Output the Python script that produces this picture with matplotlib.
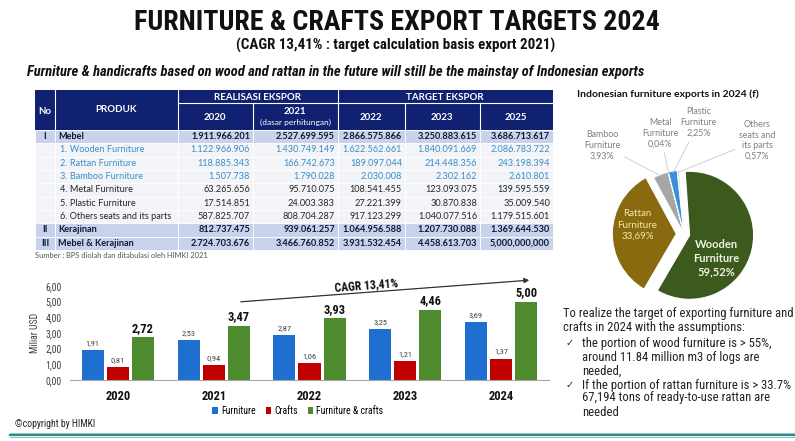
import numpy as np
import matplotlib.pyplot as plt
from matplotlib import font_manager
from matplotlib.patches import Rectangle

# FONTS
fonts = font_manager.fontManager.ttflist
names = {f.name for f in fonts}
if "Liberation Sans Narrow" in names:
    NK = dict(family="Liberation Sans Narrow")
elif "Roboto Condensed" in names:
    NK = dict(family="Roboto Condensed")
elif any(f.name == "DejaVu Sans" and f.stretch == "condensed" for f in fonts):
    NK = dict(family="DejaVu Sans", stretch="condensed")
else:
    NK = dict(family="Liberation Sans")
BODY = "Lato" if "Lato" in names else "DejaVu Sans"

# DATA - table
row_no = ["I", "", "", "", "", "", "", "II", "III"]
row_prod = ["Mebel", "1. Wooden Furniture", "2. Rattan Furniture", "3. Bamboo Furniture",
            "4. Metal Furniture", "5. Plastic Furniture", "6. Others seats and its parts",
            "Kerajinan", "Mebel & Kerajinan"]
val_2020 = ["1.911.966.201", "1.122.966.906", "118.885.343", "1.507.738", "63.265.656",
            "17.514.851", "587.825.707", "812.737.475", "2.724.703.676"]
val_2021 = ["2.527.699.595", "1.430.749.149", "166.742.673", "1.790.028", "95.710.075",
            "24.003.383", "808.704.287", "939.061.257", "3.466.760.852"]
val_2022 = ["2.866.575.866", "1.622.562.661", "189.097.044", "2.030.008", "108.541.455",
            "27.221.399", "917.123.299", "1.064.956.588", "3.931.532.454"]
val_2023 = ["3.250.883.615", "1.840.091.669", "214.448.356", "2.302.162", "123.093.075",
            "30.870.838", "1.040.077.516", "1.207.730.088", "4.458.613.703"]
val_2025 = ["3.686.713.617", "2.086.783.722", "243.198.394", "2.610.801", "139.595.559",
            "35.009.540", "1.179.515.601", "1.369.644.530", "5,000,000,000"]
bold_rows = [0, 7, 8]
blue_rows = [1, 2, 3]

# DATA - bar chart (Miliar USD)
years = ["2020", "2021", "2022", "2023", "2024"]
furniture = [1.91, 2.53, 2.87, 3.25, 3.69]
crafts = [0.81, 0.94, 1.06, 1.21, 1.37]
total = [2.72, 3.47, 3.93, 4.46, 5.00]

# DATA - pie (share in 2024, %)
pie_labels = ["Wooden\nFurniture", "Rattan\nFurniture", "Bamboo\nFurniture", "Metal\nFurniture",
              "Plastic\nFurniture", "Others\nseats and\nits parts"]
pie_values = [59.52, 33.69, 3.93, 0.04, 2.25, 0.57]

notes = ["To realize the target of exporting furniture and",
         "crafts in 2024 with the assumptions:",
         "the portion of wood furniture is > 55%,",
         "around 11.84 million m3 of logs are",
         "needed,",
         "If the portion of rattan furniture is > 33.7%",
         "67,194 tons of ready-to-use rattan are",
         "needed"]


def comma(v):
    return f"{v:.2f}".replace(".", ",")


W, H = 795, 441
fig = plt.figure(figsize=(W / 100, H / 100), dpi=100)
fig.patch.set_facecolor("white")
renderer = fig.canvas.get_renderer()


def fit(t, width):
    # scale a text so it spans the given pixel width
    w = t.get_window_extent(renderer).width
    t.set_fontsize(t.get_fontsize() * width / w)
    return t.get_fontsize()


# Overlay axes in pixel coordinates
ov = fig.add_axes([0, 0, 1, 1])
ov.set_xlim(0, W)
ov.set_ylim(H, 0)
ov.axis("off")

# Titles
t = ov.text(397, 22, "FURNITURE & CRAFTS EXPORT TARGETS 2024", ha="center", va="center",
            fontsize=17, weight="bold", color="#111111", **NK)
fit(t, 527)
t = ov.text(396, 45, "(CAGR 13,41% : target calculation basis export 2021)", ha="center",
            va="center", fontsize=10, weight="bold", color="#111111", **NK)
fit(t, 319)
t = ov.text(27, 72, "Furniture & handicrafts based on wood and rattan in the future will still be "
            "the mainstay of Indonesian exports", ha="left", va="center", fontsize=9,
            weight="bold", style="italic", color="#111111", **NK)
fit(t, 615)

# TABLE
navy = "#0f2170"
cols = [35, 55, 178, 253, 338, 405, 480, 553]
y0, y1, y2 = 90, 103, 130
row_h = 13.33
ov.add_patch(Rectangle((cols[0], y0), cols[-1] - cols[0], y2 - y0, color=navy, lw=0))
for xx in [55, 178, 338]:
    ov.plot([xx, xx], [y0, y2], color="white", lw=0.8)
for xx in [253, 405, 480]:
    ov.plot([xx, xx], [y1, y2], color="white", lw=0.8)
ov.plot([178, 553], [y1, y1], color="white", lw=0.8)
hdr = dict(color="white", weight="bold", family=BODY, ha="center", va="center")
ov.text(45, 111, "No", fontsize=7, **hdr)
ov.text(116, 110, "PRODUK", fontsize=7, **hdr)
ov.text(258, 97, "REALISASI EKSPOR", fontsize=7, **hdr)
ov.text(445, 97, "TARGET EKSPOR", fontsize=7, **hdr)
ov.text(215, 117, "2020", fontsize=7, **hdr)
ov.text(295, 111, "2021", fontsize=7, **hdr)
ov.text(295, 122, "(dasar perhitungan)", fontsize=6, color="white", family=BODY,
        ha="center", va="center")
ov.text(371, 117, "2022", fontsize=7, **hdr)
ov.text(442, 117, "2023", fontsize=7, **hdr)
ov.text(516, 117, "2025", fontsize=7, **hdr)

value_cols = [val_2020, val_2021, val_2022, val_2023, val_2025]
for i in range(len(row_prod)):
    top = y2 + i * row_h
    yc = top + row_h / 2
    bg = "#c8d2ea" if i in bold_rows else "#f2f4f8"
    for c in range(len(cols) - 1):
        ov.add_patch(Rectangle((cols[c], top), cols[c + 1] - cols[c], row_h,
                               facecolor=bg, edgecolor="white", lw=0.6))
    wt = "bold" if i in bold_rows else "normal"
    tc = "#3b8ec8" if i in blue_rows else ("#0c1a3a" if i in bold_rows else "#262626")
    ov.text(45, yc, row_no[i], ha="center", va="center", fontsize=6.8, weight="bold",
            family=BODY, color="#0c1a3a")
    ov.text(58 if i in bold_rows else 60, yc, row_prod[i], ha="left", va="center",
            fontsize=6.6, weight=wt, family=BODY, color=tc)
    for c, vals in enumerate(value_cols):
        ov.text(cols[c + 3] - 3, yc, vals[i], ha="right", va="center", fontsize=6.6,
                weight=wt, family=BODY, color=tc)
ov.text(35, 256, "Sumber : BPS diolah dan ditabulasi oleh HIMKI 2021", ha="left", va="center",
        fontsize=5.4, family=BODY, color="#555555")

# BAR CHART
ax = fig.add_axes([70 / W, 1 - 380 / H, 479 / W, 94 / H])
x = np.arange(len(years))
bw, off = 0.23, 0.262
b1 = ax.bar(x - off, furniture, bw, color="#1f6fd0", label="Furniture")
b2 = ax.bar(x, crafts, bw, color="#c00000", label="Crafts")
b3 = ax.bar(x + off, total, bw, color="#4e8a2e", label="Furniture & crafts")
for bars, vals in [(b1, furniture), (b2, crafts)]:
    for r, v in zip(bars, vals):
        ax.annotate(comma(v), (r.get_x() + r.get_width() / 2, v), xytext=(0, 3),
                    textcoords="offset points", ha="center", va="bottom", fontsize=6,
                    color="#404040", annotation_clip=False, **NK)
for r, v in zip(b3, total):
    ax.annotate(comma(v), (r.get_x() + r.get_width() / 2, v), xytext=(0, 2),
                textcoords="offset points", ha="center", va="bottom", fontsize=9,
                weight="bold", color="#111111", annotation_clip=False, **NK)
ax.set_xlim(-0.5, 4.5)
ax.set_ylim(0, 6)
ax.set_yticks(np.arange(0, 7, 1))
ax.set_yticklabels([comma(v) for v in np.arange(0, 7, 1)], fontsize=7, color="#404040", **NK)
ax.set_xticks(x)
ax.set_xticklabels(years, fontsize=9, weight="bold", color="#111111", **NK)
ax.tick_params(length=0)
ax.tick_params(axis="x", pad=7)
ax.tick_params(axis="y", pad=6)
ax.set_ylabel("Miliar USD", fontsize=7, color="#404040", labelpad=4, **NK)
for s in ["top", "right", "left"]:
    ax.spines[s].set_visible(False)
ax.spines["bottom"].set_color("#a6a6a6")
ax.patch.set_alpha(0)
fig.legend(handles=[b1, b2, b3], loc="center", bbox_to_anchor=(298 / W, 1 - 411 / H),
           ncol=3, frameon=False, handlelength=0.6, handleheight=0.6,
           handletextpad=0.3, columnspacing=1.0, prop=dict(size=7, **NK))

# CAGR arrow
ov.annotate("", xy=(532, 280), xytext=(238, 302),
            arrowprops=dict(arrowstyle="-|>", color="#333333", lw=0.9, ls=(0, (2, 0.6)),
                            mutation_scale=7))
t = ov.text(366, 285, "CAGR 13,41%", ha="center", va="center", fontsize=8, weight="bold",
            rotation=0, color="#111111", **NK)
fit(t, 64)
t.set_rotation(4.3)

# PIE
cx, cy, half = 684, 234, 80
pa = fig.add_axes([(cx - half) / W, 1 - (cy + half) / H, 2 * half / W, 2 * half / H])
pie_colors = ["#3d5a1e", "#8a6a0e", "#a6a6a6", "#f0c000", "#3b8fd9", "#d9d9d9"]
wedges, _ = pa.pie(pie_values, colors=pie_colors, startangle=94, counterclock=False,
                   explode=[0.09, 0.12, 0, 0, 0, 0], radius=1,
                   wedgeprops=dict(edgecolor="white", linewidth=0.8))
pa.set_xlim(-1.25, 1.25)
pa.set_ylim(-1.25, 1.25)
pa.set_aspect("equal")
pa.axis("off")
ov.text(668, 94, "Indonesian furniture exports in 2024 (f)", ha="center", va="center",
        fontsize=7.5, weight="bold", family=BODY, color="#111111")

pct = [f"{v:.2f}%".replace(".", ",") for v in pie_values]
pa.text(0.50, -0.375, f"{pie_labels[0]}\n{pct[0]}", ha="center", va="center", fontsize=8,
        weight="bold", family=BODY, color="#eef3e2", linespacing=1.3)
pa.text(-0.73, 0.14, f"{pie_labels[1]}\n{pct[1]}", ha="center", va="center", fontsize=7,
        family=BODY, color="#f5e6b0", linespacing=1.3)
outside = {2: (-1.28, 1.39), 3: (-0.37, 1.57), 4: (0.23, 1.74), 5: (1.14, 1.46)}
for k, (tx, ty) in outside.items():
    w = wedges[k]
    ang = np.deg2rad((w.theta1 + w.theta2) / 2)
    pa.annotate(f"{pie_labels[k]}\n{pct[k]}", xy=(0.97 * np.cos(ang), 0.97 * np.sin(ang)),
                xytext=(tx, ty), ha="center", va="center", fontsize=6.4, family=BODY,
                color="#7f7f7f", linespacing=1.25, annotation_clip=False,
                arrowprops=dict(arrowstyle="-", color="#c8c8c8", lw=0.6, shrinkA=1, shrinkB=0))

# Right text block
tk = dict(ha="left", va="center", color="#222222", **NK)
t = ov.text(563, 313, notes[0], fontsize=8.5, **tk)
fs = fit(t, 229)
ov.text(563, 327, notes[1], fontsize=fs, **tk)
for yy, s in zip([343, 357, 371, 385, 398, 412], notes[2:]):
    ov.text(582, yy, s, fontsize=fs, **tk)
for yy in [343, 385]:
    ov.text(566, yy, "\u2713", ha="left", va="center", fontsize=7, family="DejaVu Sans",
            color="#222222")

# Footer
ov.text(15, 424, "\u00a9copyright by HIMKI", ha="left", va="center", fontsize=7,
        color="#222222", **NK)
ov.plot([10, W], [432.5, 432.5], color="#9fd0cc", lw=0.8)
ov.plot([10, W], [434.7, 434.7], color="#2e8b87", lw=1.6)
ov.plot([10, W], [437, 437], color="#8cc8c4", lw=0.8)

fig.savefig("out.png", dpi=100)
